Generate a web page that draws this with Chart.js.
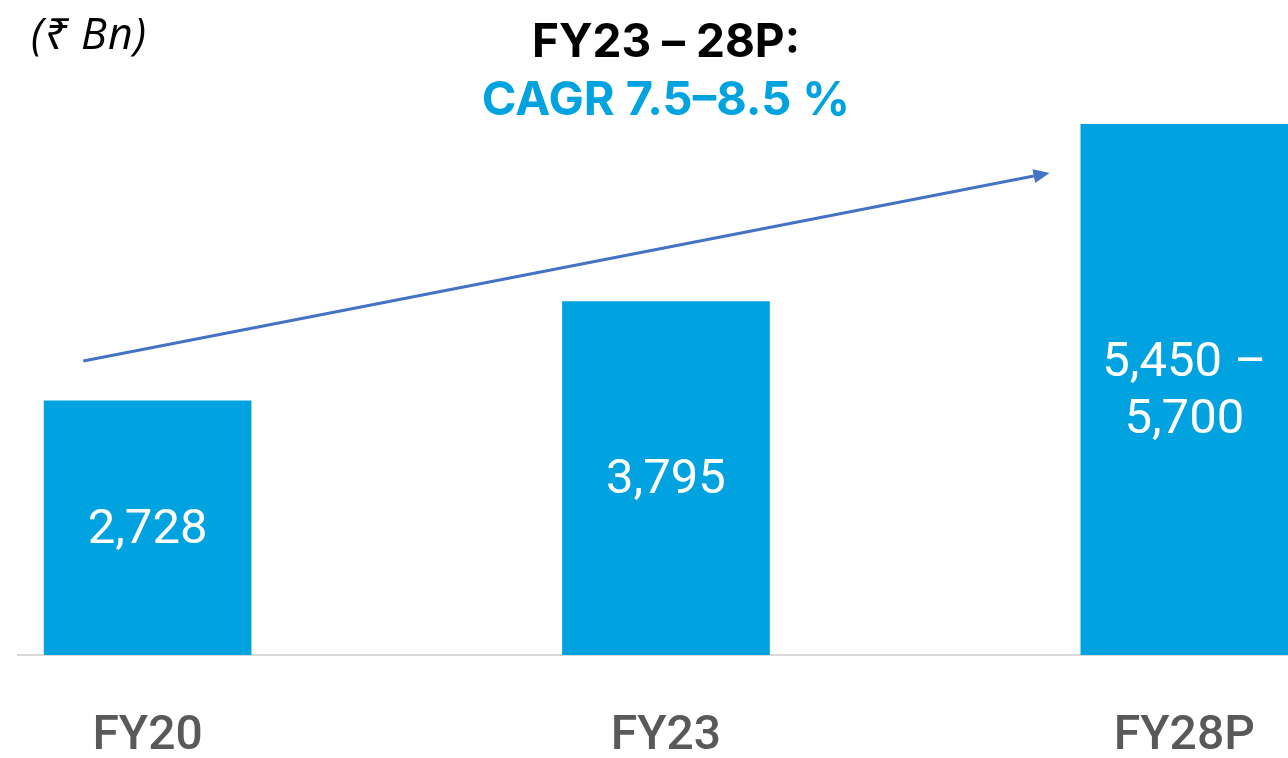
<!DOCTYPE html>
<html>
<head>
<meta charset="utf-8">
<script src="https://cdn.jsdelivr.net/npm/chart.js@4"></script>
<style>
  html,body{margin:0;padding:0;background:#fff;}
  #wrap{width:1288px;height:758px;position:relative;overflow:hidden;}
</style>
</head>
<body>
<div id="wrap"><canvas id="c" width="1288" height="758"></canvas></div>
<script>
// ---- data ----
const categories = ['FY20', 'FY23', 'FY28P'];
const values = [2728, 3795, 5700];
const valueLabels = [['2,728'], ['3,795'], ['5,450 \u2013', '5,700']];
const titleLines = ['FY23 \u2013 28P:', 'CAGR 7.5\u20138.5 %'];
const unitLabel = '(\u20B9 Bn)';
// arrow in data space: [x index, value]
const arrowStart = [-0.124, 3156];
const arrowEnd = [1.74, 5174];

const BLUE = '#00A3E0';

const overlay = {
  id: 'overlay',
  afterDatasetsDraw(chart) {
    const ctx = chart.ctx;
    const xs = chart.scales.x, ys = chart.scales.y;
    const meta = chart.getDatasetMeta(0);
    ctx.save();
    // value labels
    ctx.fillStyle = '#ffffff';
    ctx.font = '49px Roboto, "Noto Sans", sans-serif';
    ctx.textAlign = 'center';
    ctx.textBaseline = 'middle';
    meta.data.forEach((bar, i) => {
      const lines = valueLabels[i];
      const mid = (bar.y + bar.base) / 2;
      const lh = 57;
      lines.forEach((t, j) => {
        ctx.fillText(t, bar.x, mid + 3 + (j - (lines.length - 1) / 2) * lh);
      });
    });
    // arrow
    const x1 = xs.getPixelForValue(arrowStart[0]), y1 = ys.getPixelForValue(arrowStart[1]);
    const x2 = xs.getPixelForValue(arrowEnd[0]), y2 = ys.getPixelForValue(arrowEnd[1]);
    const ang = Math.atan2(y2 - y1, x2 - x1);
    const headLen = 16, headW = 7;
    ctx.strokeStyle = '#4472C4';
    ctx.fillStyle = '#4472C4';
    ctx.lineWidth = 3;
    ctx.beginPath();
    ctx.moveTo(x1, y1);
    ctx.lineTo(x2 - headLen * Math.cos(ang), y2 - headLen * Math.sin(ang));
    ctx.stroke();
    ctx.beginPath();
    ctx.moveTo(x2, y2);
    ctx.lineTo(x2 - headLen * Math.cos(ang) + headW * Math.sin(ang), y2 - headLen * Math.sin(ang) - headW * Math.cos(ang));
    ctx.lineTo(x2 - headLen * Math.cos(ang) - headW * Math.sin(ang), y2 - headLen * Math.sin(ang) + headW * Math.cos(ang));
    ctx.closePath();
    ctx.fill();
    // title (centred on FY23)
    const tx = xs.getPixelForValue(1);
    ctx.textAlign = 'center';
    ctx.textBaseline = 'alphabetic';
    ctx.font = 'bold 46px Inter, "Open Sans", sans-serif';
    ctx.fillStyle = '#000000';
    ctx.fillText(titleLines[0], tx, 57);
    ctx.font = 'bold 47px Inter, "Open Sans", sans-serif';
    ctx.fillStyle = BLUE;
    ctx.fillText(titleLines[1], tx, 115);
    // unit
    ctx.textAlign = 'left';
    ctx.fillStyle = '#000000';
    ctx.font = 'italic 43px "Open Sans", "Noto Sans", sans-serif';
    ctx.letterSpacing = '1px';
    ctx.fillText(unitLabel, 31, 49);
    ctx.restore();
  }
};

new Chart(document.getElementById('c'), {
  type: 'bar',
  data: {
    datasets: [{
      data: categories.map((c, i) => ({ x: i, y: values[i] })),
      backgroundColor: BLUE,
      borderWidth: 0,
      barThickness: 207
    }]
  },
  options: {
    responsive: false,
    animation: false,
    events: [],
    layout: { padding: { left: 18, right: 0, top: 124, bottom: 0 } },
    plugins: { legend: { display: false }, tooltip: { enabled: false }, title: { display: false } },
    scales: {
      x: {
        type: 'linear',
        offset: false,
        min: -0.25,
        max: 2.2,
        afterBuildTicks(scale) { scale.ticks = categories.map((c, i) => ({ value: i })); },
        afterFit(scale) { scale.height = 103; scale.paddingLeft = 0; scale.paddingRight = 0; },
        ticks: {
          callback: (v) => categories[v] ?? '',
          color: '#595959',
          font: { family: 'Roboto, sans-serif', size: 48, weight: '500', lineHeight: 1 },
          padding: 58,
          maxRotation: 0,
          autoSkip: false
        },
        grid: { display: false, drawTicks: false, offset: false },
        border: { display: true, color: '#D9D9D9', width: 2 }
      },
      y: {
        display: false,
        min: 0,
        max: 5700
      }
    }
  },
  plugins: [overlay]
});
</script>
</body>
</html>
